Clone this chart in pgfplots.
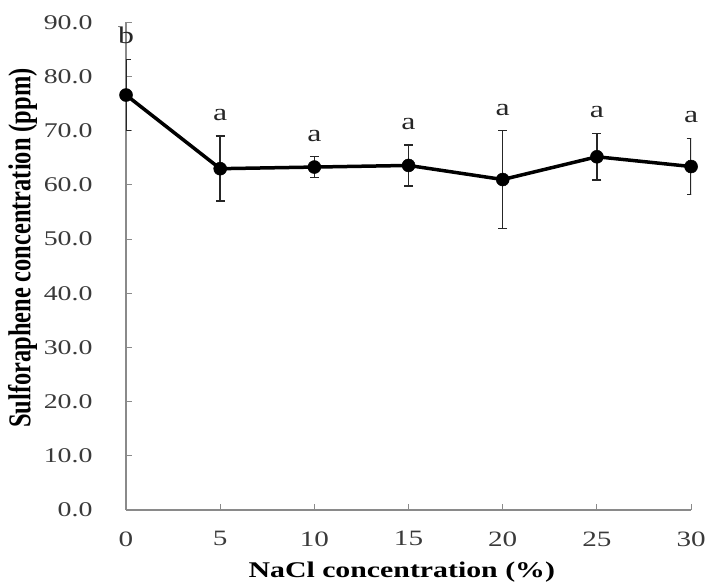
\documentclass[border=0pt]{standalone}
\usepackage{fontspec}
\setmainfont{Liberation Serif}[FakeStretch=1.33]
\newfontfamily\ylabfont{Liberation Serif}
\usepackage{graphicx}
\usepackage{pgfplots}
\usepackage{pgfplotstable}
\pgfplotsset{compat=1.18}

% NaCl concentration (%), sulforaphene (ppm), std. deviation, significance group
\pgfplotstableread{
x  y     err  grp
0  76.6  6.6  b
5  63.0  6.0  a
10 63.3  1.9  a
15 63.6  3.8  a
20 61.0  9.0  a
25 65.2  4.3  a
30 63.4  5.2  a
}\sulfdata

\definecolor{axisgray}{HTML}{8A8A8A}
\definecolor{ticktext}{HTML}{3A3A3A}

\begin{document}
\begin{tikzpicture}
\begin{axis}[
  scale only axis,
  width=565bp, height=487.5bp,
  xmin=0, xmax=30, ymin=0, ymax=90,
  axis lines*=left,
  axis line style={axisgray, line width=1.3bp},
  xtick={0,5,...,30},
  ytick={0,10,...,90},
  tick align=inside,
  major tick length=6bp,
  tick style={axisgray, line width=1bp},
  /pgf/number format/assume math mode=true,
  yticklabel style={/pgf/number format/fixed, /pgf/number format/fixed zerofill,
    /pgf/number format/precision=1, font=\fontsize{21}{24}\selectfont,
    text=ticktext, xshift=-30bp},
  xticklabel style={font=\fontsize{22}{24}\selectfont, text=ticktext, yshift=-18bp},
  scaled y ticks=false,
  xlabel={\fontsize{22.5}{26}\selectfont\bfseries NaCl concentration (\%)},
  xlabel style={at={(axis description cs:0.488,-0.139)}, anchor=base},
  ylabel={\scalebox{1}[1.3]{\ylabfont\fontsize{24.5}{28}\selectfont\bfseries Sulforaphene concentration (ppm)}},
  ylabel style={at={(axis description cs:-0.183,0.537)}, anchor=center, rotate=0},
  after end axis/.code={
    \path (axis description cs:-0.223,-0.154) rectangle (axis description cs:1.037,1.046);
  },
]
\addplot[black, line width=3.5bp, mark=*, mark size=6.5bp,
  mark options={solid, fill=black, line width=0.5bp},
  error bars/.cd, y dir=both, y explicit,
  error bar style={black!85, line width=1.4bp},
  error mark options={rotate=90, mark size=4.5bp, line width=1.4bp, black!85}]
  table[x=x, y=y, y error=err]{\sulfdata};
% significance letters above each error bar
\addplot[only marks, mark=none, nodes near coords, point meta=explicit symbolic,
  nodes near coords style={anchor=base, yshift=15.5bp, text=black!85,
    font=\fontsize{24}{26}\selectfont}]
  table[x=x, y expr=\thisrow{y}+\thisrow{err}, meta=grp]{\sulfdata};
\end{axis}
\end{tikzpicture}
\end{document}
